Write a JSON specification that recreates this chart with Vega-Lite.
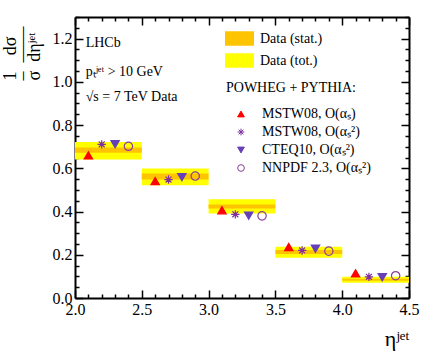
{
  "$schema": "https://vega.github.io/schema/vega-lite/v6.json",
  "width": 334,
  "height": 281,
  "autosize": {"type": "none"},
  "padding": {"left": 75, "top": 17, "right": 23, "bottom": 61},
  "background": "white",
  "config": {
    "view": {"stroke": null},
    "font": "Liberation Serif",
    "axis": {"domainColor": "black", "domainWidth": 2, "tickColor": "black", "tickWidth": 1.5, "grid": false, "labelFont": "Liberation Serif", "labelFontSize": 16, "labelColor": "black", "labelFlush": false, "labelOverlap": false, "labelBound": false, "titleFont": "Liberation Serif", "titleFontWeight": "normal", "titleColor": "black"},
    "legend": {"labelFont": "Liberation Serif", "labelFontSize": 14, "labelColor": "black", "titleFont": "Liberation Serif", "titleFontSize": 14, "titleFontWeight": "normal", "titleColor": "black", "labelLimit": 300}
  },
  "datasets": {
    "bands": [
      {"lo": 2.0, "hi": 2.5, "low": 0.641, "high": 0.722, "band": "Data (tot.)"},
      {"lo": 2.5, "hi": 3.0, "low": 0.522, "high": 0.599, "band": "Data (tot.)"},
      {"lo": 3.0, "hi": 3.5, "low": 0.391, "high": 0.457, "band": "Data (tot.)"},
      {"lo": 3.5, "hi": 4.0, "low": 0.186, "high": 0.237, "band": "Data (tot.)"},
      {"lo": 4.0, "hi": 4.5, "low": 0.071, "high": 0.098, "band": "Data (tot.)"},
      {"lo": 2.0, "hi": 2.5, "low": 0.672, "high": 0.696, "band": "Data (stat.)"},
      {"lo": 2.5, "hi": 3.0, "low": 0.548, "high": 0.576, "band": "Data (stat.)"},
      {"lo": 3.0, "hi": 3.5, "low": 0.414, "high": 0.433, "band": "Data (stat.)"},
      {"lo": 3.5, "hi": 4.0, "low": 0.203, "high": 0.222, "band": "Data (stat.)"},
      {"lo": 4.0, "hi": 4.5, "low": 0.080, "high": 0.089, "band": "Data (stat.)"}
    ],
    "models": [
      {"eta": 2.1, "val": 0.660, "model": "MSTW08, O(αₛ)"},
      {"eta": 2.6, "val": 0.541, "model": "MSTW08, O(αₛ)"},
      {"eta": 3.1, "val": 0.406, "model": "MSTW08, O(αₛ)"},
      {"eta": 3.6, "val": 0.236, "model": "MSTW08, O(αₛ)"},
      {"eta": 4.1, "val": 0.114, "model": "MSTW08, O(αₛ)"},
      {"eta": 2.2, "val": 0.711, "model": "MSTW08, O(αₛ²)"},
      {"eta": 2.7, "val": 0.548, "model": "MSTW08, O(αₛ²)"},
      {"eta": 3.2, "val": 0.387, "model": "MSTW08, O(αₛ²)"},
      {"eta": 3.7, "val": 0.220, "model": "MSTW08, O(αₛ²)"},
      {"eta": 4.2, "val": 0.098, "model": "MSTW08, O(αₛ²)"},
      {"eta": 2.3, "val": 0.712, "model": "CTEQ10, O(αₛ²)"},
      {"eta": 2.8, "val": 0.559, "model": "CTEQ10, O(αₛ²)"},
      {"eta": 3.3, "val": 0.381, "model": "CTEQ10, O(αₛ²)"},
      {"eta": 3.8, "val": 0.228, "model": "CTEQ10, O(αₛ²)"},
      {"eta": 4.3, "val": 0.096, "model": "CTEQ10, O(αₛ²)"},
      {"eta": 2.4, "val": 0.702, "model": "NNPDF 2.3, O(αₛ²)"},
      {"eta": 2.9, "val": 0.564, "model": "NNPDF 2.3, O(αₛ²)"},
      {"eta": 3.4, "val": 0.380, "model": "NNPDF 2.3, O(αₛ²)"},
      {"eta": 3.9, "val": 0.217, "model": "NNPDF 2.3, O(αₛ²)"},
      {"eta": 4.4, "val": 0.103, "model": "NNPDF 2.3, O(αₛ²)"}
    ]
  },
  "layer": [
    {
      "data": {"name": "bands"},
      "mark": {"type": "rect"},
      "encoding": {
        "x": {"field": "lo", "type": "quantitative", "scale": {"domain": [2, 4.5], "nice": false, "zero": false},
          "axis": {"orient": "bottom", "values": [2.0,2.1,2.2,2.3,2.4,2.5,2.6,2.7,2.8,2.9,3.0,3.1,3.2,3.3,3.4,3.5,3.6,3.7,3.8,3.9,4.0,4.1,4.2,4.3,4.4,4.5],
            "tickSize": {"condition": {"test": "abs(datum.value*2 - round(datum.value*2)) < 0.001", "value": -8}, "value": -4},
            "labelPadding": 11,
            "labelExpr": "abs(datum.value*2 - round(datum.value*2)) < 0.001 ? format(datum.value, '.1f') : ''",
            "title": "ηʲᵉᵗ", "titleFontSize": 22, "titleX": 334, "titleY": 40, "titleAlign": "right", "titleBaseline": "middle", "titleAnchor": "end"}},
        "x2": {"field": "hi"},
        "y": {"field": "low", "type": "quantitative", "scale": {"domain": [0, 1.3], "nice": false},
          "axis": {"orient": "left", "values": [0,0.05,0.1,0.15,0.2,0.25,0.3,0.35,0.4,0.45,0.5,0.55,0.6,0.65,0.7,0.75,0.8,0.85,0.9,0.95,1.0,1.05,1.1,1.15,1.2,1.25,1.3],
            "tickSize": {"condition": {"test": "abs(datum.value*5 - round(datum.value*5)) < 0.001", "value": -8}, "value": -4},
            "labelPadding": 11,
            "labelExpr": "abs(datum.value*5 - round(datum.value*5)) < 0.001 ? format(datum.value, '.1f') : ''",
            "title": ["1\u00a0\u00a0\u2009\u2009dσ", "–\u00a0\u00a0——", "σ\u00a0\u00a0dηʲᵉᵗ"], "titleFontSize": 18, "titleLineHeight": 12, "titleAngle": -90, "titleX": -60, "titleY": 63, "titleAlign": "left", "titleBaseline": "alphabetic", "titleAnchor": "start"}},
        "y2": {"field": "high"},
        "color": {"field": "band", "type": "nominal", "scale": {"domain": ["Data (stat.)", "Data (tot.)"], "range": ["#FFC400", "#FFFF00"]},
          "legend": {"orient": "none", "legendX": 150, "legendY": 7, "title": null, "symbolType": "M-1,-0.5H1V0.5H-1Z", "symbolSize": 841, "symbolStrokeWidth": 0, "labelOffset": 6, "rowPadding": -11, "labelFontSize": 14}}
      }
    },
    {
      "data": {"name": "models"},
      "mark": {"type": "point", "opacity": 1, "strokeWidth": 1.2, "size": 70},
      "encoding": {
        "x": {"field": "eta", "type": "quantitative",
          "axis": {"orient": "top", "values": [2.0,2.1,2.2,2.3,2.4,2.5,2.6,2.7,2.8,2.9,3.0,3.1,3.2,3.3,3.4,3.5,3.6,3.7,3.8,3.9,4.0,4.1,4.2,4.3,4.4,4.5],
            "tickSize": {"condition": {"test": "abs(datum.value*2 - round(datum.value*2)) < 0.001", "value": -8}, "value": -4},
            "labels": false, "title": null}},
        "y": {"field": "val", "type": "quantitative",
          "axis": {"orient": "right", "values": [0,0.05,0.1,0.15,0.2,0.25,0.3,0.35,0.4,0.45,0.5,0.55,0.6,0.65,0.7,0.75,0.8,0.85,0.9,0.95,1.0,1.05,1.1,1.15,1.2,1.25,1.3],
            "tickSize": {"condition": {"test": "abs(datum.value*5 - round(datum.value*5)) < 0.001", "value": -8}, "value": -4},
            "labels": false, "title": null}},
        "shape": {"field": "model", "type": "nominal",
          "scale": {"domain": ["MSTW08, O(αₛ)", "MSTW08, O(αₛ²)", "CTEQ10, O(αₛ²)", "NNPDF 2.3, O(αₛ²)"],
            "range": ["triangle-up", "M-1,0L1,0M0,-1L0,1M-0.7,-0.7L0.7,0.7M-0.7,0.7L0.7,-0.7", "triangle-down", "circle"]},
          "legend": {"orient": "none", "legendX": 151, "legendY": 64, "title": "POWHEG + PYTHIA:", "titlePadding": 12, "symbolOffset": 8, "labelOffset": 14, "symbolSize": 45, "symbolStrokeWidth": 1, "rowPadding": 4}},
        "fill": {"field": "model", "type": "nominal",
          "scale": {"domain": ["MSTW08, O(αₛ)", "MSTW08, O(αₛ²)", "CTEQ10, O(αₛ²)", "NNPDF 2.3, O(αₛ²)"],
            "range": ["#FF0000", "#7F2F9F", "#6640B8", "transparent"]},
          "legend": {"orient": "none", "legendX": 151, "legendY": 64, "title": "POWHEG + PYTHIA:", "titlePadding": 12, "symbolOffset": 8, "labelOffset": 14, "symbolSize": 45, "symbolStrokeWidth": 1, "rowPadding": 4}},
        "stroke": {"field": "model", "type": "nominal",
          "scale": {"domain": ["MSTW08, O(αₛ)", "MSTW08, O(αₛ²)", "CTEQ10, O(αₛ²)", "NNPDF 2.3, O(αₛ²)"],
            "range": ["#FF0000", "#7F2F9F", "#6640B8", "#8B3D9E"]},
          "legend": {"orient": "none", "legendX": 151, "legendY": 64, "title": "POWHEG + PYTHIA:", "titlePadding": 12, "symbolOffset": 8, "labelOffset": 14, "symbolSize": 45, "symbolStrokeWidth": 1, "rowPadding": 4}}
      }
    },
    {
      "data": {"values": [{}]},
      "mark": {"type": "text", "align": "left", "baseline": "middle", "fontSize": 14, "font": "Liberation Serif", "color": "black"},
      "encoding": {"x": {"datum": 2.08, "type": "quantitative", "axis": null}, "y": {"datum": 1.18, "type": "quantitative", "axis": null}, "text": {"value": "LHCb"}}
    },
    {
      "data": {"values": [{}]},
      "mark": {"type": "text", "align": "left", "baseline": "middle", "fontSize": 14, "font": "Liberation Serif", "color": "black"},
      "encoding": {"x": {"datum": 2.08, "type": "quantitative", "axis": null}, "y": {"datum": 1.045, "type": "quantitative", "axis": null}, "text": {"value": "pₜʲᵉᵗ > 10 GeV"}}
    },
    {
      "data": {"values": [{}]},
      "mark": {"type": "text", "align": "left", "baseline": "middle", "fontSize": 14, "font": "Liberation Serif", "color": "black"},
      "encoding": {"x": {"datum": 2.08, "type": "quantitative", "axis": null}, "y": {"datum": 0.928, "type": "quantitative", "axis": null}, "text": {"value": "√s = 7 TeV Data"}}
    }
  ],
  "resolve": {"axis": {"x": "independent", "y": "independent"}}
}
